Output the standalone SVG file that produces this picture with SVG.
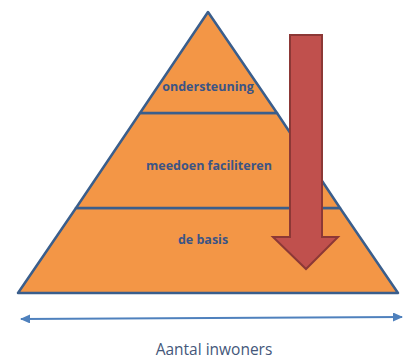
<svg xmlns="http://www.w3.org/2000/svg" width="404" height="359" viewBox="0 0 404 359">
<style>
.tier{fill:#F39646;stroke:#3A5E8C;stroke-width:2.5;stroke-linejoin:round}
.lbl{font-family:"Open Sans","Liberation Sans",sans-serif;font-weight:bold;font-size:12.5px;fill:#3B5485;text-anchor:middle}
.cap{font-family:"Open Sans","Liberation Sans",sans-serif;font-size:15.5px;fill:#44577A;text-anchor:middle}
</style>
<defs>
<marker id="ah" viewBox="0 0 10 9" refX="9" refY="4.5" markerWidth="10" markerHeight="9" markerUnits="userSpaceOnUse" orient="auto-start-reverse">
<path d="M0,0 L10,4.5 L0,9 z" fill="#4F81BD"/>
</marker>
</defs>
<rect width="404" height="359" fill="#fff"/>
<g id="tier-basis">
<polygon class="tier" points="76,208 340,208 398,293 18,293"/>
<text class="lbl" x="203" y="244">de basis</text>
</g>
<g id="tier-meedoen">
<polygon class="tier" points="140,113 277,113 340,208 76,208"/>
<text class="lbl" x="209" y="170">meedoen faciliteren</text>
</g>
<g id="tier-ondersteuning">
<polygon class="tier" points="208,12 277,113 140,113"/>
<text class="lbl" x="208" y="91">ondersteuning</text>
</g>
<g id="down-arrow">
<polygon points="290,35 322,35 322,237 338,237 306,269 273,237 290,237" fill="#C0504D" stroke="#8C3836" stroke-width="2" stroke-linejoin="miter"/>
</g>
<g id="connectors">
<line x1="21" y1="319" x2="402" y2="317" stroke="#4F81BD" stroke-width="1.8" marker-start="url(#ah)" marker-end="url(#ah)"/>
</g>
<g id="axis-label">
<text class="cap" x="214" y="355">Aantal inwoners</text>
</g>
</svg>
